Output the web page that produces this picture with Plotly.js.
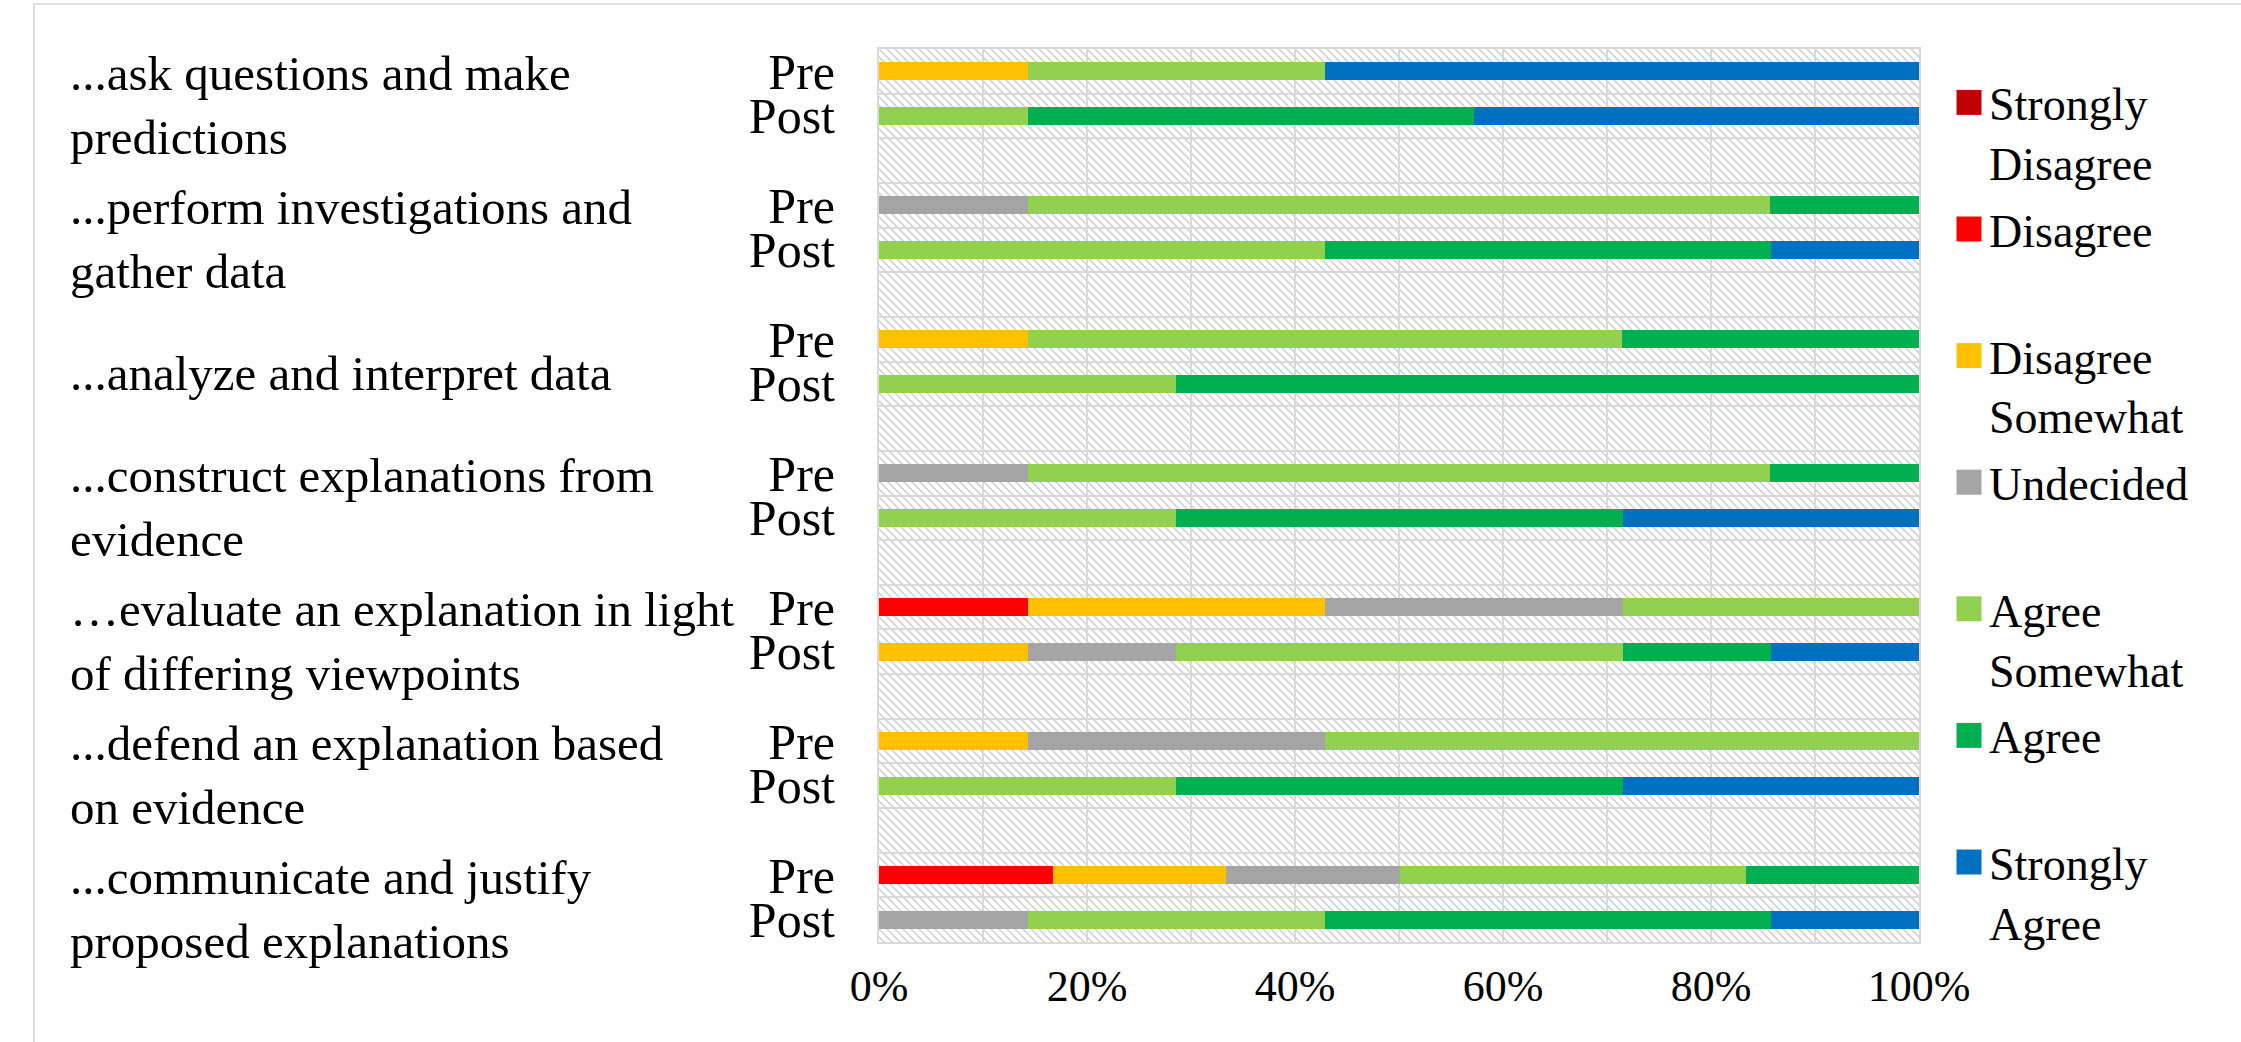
<!DOCTYPE html>
<html>
<head>
<meta charset="utf-8">
<script src="https://cdn.plot.ly/plotly-3.0.1.min.js"></script>
<style>
  html, body { margin: 0; padding: 0; background: #ffffff; overflow: hidden; }
  #chart { position: absolute; left: 0; top: 0; width: 2241px; height: 1042px; }
  #frame { position: absolute; left: 33px; top: 3px; width: 2400px; height: 1200px;
           border: 2px solid #dedede; pointer-events: none; box-sizing: border-box; }
</style>
</head>
<body>
<div id="chart"></div>
<div id="frame"></div>
<script>
// ---------------- data ----------------
const items = [
  "...ask questions and make<br>predictions",
  "...perform investigations and<br>gather data",
  "...analyze and interpret data",
  "...construct explanations from<br>evidence",
  "\u2026evaluate an explanation in light<br>of differing viewpoints",
  "...defend an explanation based<br>on evidence",
  "...communicate and justify<br>proposed explanations"
];
const phases = ["Pre", "Post"];
const levels = ["Strongly Disagree", "Disagree", "Disagree Somewhat", "Undecided",
                "Agree Somewhat", "Agree", "Strongly Agree"];
const levelColors = ["#C00000", "#FF0000", "#FFC000", "#A5A5A5", "#92D050", "#00B050", "#0070C0"];

// percentages, one value per item (Pre)
const preStronglyDisagree = [0, 0, 0, 0, 0, 0, 0];
const preDisagree         = [0, 0, 0, 0, 14.3, 0, 16.7];
const preDisagreeSomewhat = [14.3, 0, 14.3, 0, 28.6, 14.3, 16.7];
const preUndecided        = [0, 14.3, 0, 14.3, 28.6, 28.6, 16.7];
const preAgreeSomewhat    = [28.6, 71.4, 57.1, 71.4, 28.6, 57.1, 33.3];
const preAgree            = [0, 14.3, 28.6, 14.3, 0, 0, 16.7];
const preStronglyAgree    = [57.1, 0, 0, 0, 0, 0, 0];

// percentages, one value per item (Post)
const postStronglyDisagree = [0, 0, 0, 0, 0, 0, 0];
const postDisagree         = [0, 0, 0, 0, 0, 0, 0];
const postDisagreeSomewhat = [0, 0, 0, 0, 14.3, 0, 0];
const postUndecided        = [0, 0, 0, 0, 14.3, 0, 14.3];
const postAgreeSomewhat    = [14.3, 42.9, 28.6, 28.6, 42.9, 28.6, 28.6];
const postAgree            = [42.9, 42.9, 71.4, 42.9, 14.3, 42.9, 42.9];
const postStronglyAgree    = [42.9, 14.3, 0, 28.6, 14.3, 28.6, 14.3];

const xTickValues = [0, 20, 40, 60, 80, 100];

// ---------------- build ----------------
const preSeries  = [preStronglyDisagree, preDisagree, preDisagreeSomewhat, preUndecided,
                    preAgreeSomewhat, preAgree, preStronglyAgree];
const postSeries = [postStronglyDisagree, postDisagree, postDisagreeSomewhat, postUndecided,
                    postAgreeSomewhat, postAgree, postStronglyAgree];

const SLOTS_PER_ITEM = 3;               // Pre, Post, gap
const nSlots = items.length * SLOTS_PER_ITEM - 1;

const yPos = [], yText = [];
items.forEach((it, i) => {
  phases.forEach((p, j) => { yPos.push(i * SLOTS_PER_ITEM + j); yText.push(p); });
});
const boundaries = [];
for (let k = 0; k <= nSlots; k++) boundaries.push(k - 0.5);

const FONT = "'Liberation Serif', 'Times New Roman', serif";

const traces = levels.map((lvl, li) => {
  const xs = [];
  items.forEach((it, i) => { xs.push(preSeries[li][i]); xs.push(postSeries[li][i]); });
  const words = lvl.split(" ");
  const legendName = words.length > 1 ? words.join("<br>") : lvl + "<br>\u00a0";
  return {
    type: "bar", orientation: "h",
    x: xs, y: yPos, name: legendName,
    legendgroup: lvl,
    width: 0.4,
    marker: { color: levelColors[li], line: { width: 0 } },
    hoverinfo: "skip"
  };
});

// plot geometry
const W = 2241, H = 1042;
const M = { l: 879, r: 322, t: 49, b: 100 };
const PW = W - M.l - M.r, PH = H - M.t - M.b;

const hatch = `<svg xmlns="http://www.w3.org/2000/svg" width="${PW}" height="${PH}" viewBox="0 0 ${PW} ${PH}" preserveAspectRatio="none"><defs><pattern id="h" width="8" height="8" patternUnits="userSpaceOnUse"><path d="M-2,6 L2,10 M0,0 L8,8 M6,-2 L10,2" stroke="#d9d9d9" stroke-width="2"/></pattern></defs><rect x="0" y="0" width="${PW}" height="${PH}" fill="url(#h)"/></svg>`;

const annotations = items.map((txt, i) => ({
  text: txt, xref: "paper", yref: "y",
  x: (68 - M.l) / PW, y: i * SLOTS_PER_ITEM + 0.5,
  xanchor: "left", yanchor: "middle", align: "left",
  yshift: -12, showarrow: false,
  font: { family: FONT, size: 49, color: "#000000" }
}));

const layout = {
  width: W, height: H,
  margin: M,
  paper_bgcolor: "#ffffff",
  plot_bgcolor: "rgba(0,0,0,0)",
  barmode: "stack",
  showlegend: true,
  legend: {
    x: (1949 - M.l) / PW, xanchor: "left",
    y: (H - M.b - 66) / PH, yanchor: "top",
    traceorder: "grouped", valign: "top",
    tracegroupgap: 4,
    font: { family: FONT, size: 46, color: "#000000" },
    bgcolor: "rgba(0,0,0,0)", borderwidth: 0
  },
  xaxis: {
    range: [0, 100], autorange: false,
    tickmode: "array", tickvals: xTickValues, ticktext: xTickValues.map(v => v + "%"),
    showgrid: true, gridcolor: "#d9d9d9", gridwidth: 2,
    minor: { dtick: 10, tick0: 0, showgrid: true, gridcolor: "#d9d9d9", gridwidth: 2 },
    zeroline: false,
    showline: true, mirror: true, linecolor: "#d9d9d9", linewidth: 2,
    ticks: "outside", ticklen: 4, tickcolor: "rgba(0,0,0,0)",
    tickfont: { family: FONT, size: 44, color: "#000000" }
  },
  yaxis: {
    range: [nSlots - 0.5, -0.5], autorange: false,
    tickmode: "array", tickvals: yPos, ticktext: yText,
    showgrid: false,
    minor: { tickmode: "array", tickvals: boundaries, showgrid: true, gridcolor: "#d9d9d9", gridwidth: 2 },
    zeroline: false,
    showline: true, mirror: true, linecolor: "#d9d9d9", linewidth: 2,
    ticks: "outside", ticklen: 32, tickcolor: "rgba(0,0,0,0)",
    tickfont: { family: FONT, size: 50, color: "#000000" }
  },
  images: [{
    source: "data:image/svg+xml;charset=utf-8," + encodeURIComponent(hatch),
    xref: "paper", yref: "paper", x: 0, y: 1, sizex: 1, sizey: 1,
    xanchor: "left", yanchor: "top", sizing: "stretch", layer: "below"
  }],
  annotations: annotations
};

Plotly.newPlot("chart", traces, layout, { staticPlot: true, displayModeBar: false }).then(() => {
  document.querySelectorAll("#chart .legend .legendpoints path").forEach(p => {
    p.setAttribute("d", "M12.5,12.5H-12.5V-12.5H12.5Z");
  });
});
</script>
</body>
</html>
